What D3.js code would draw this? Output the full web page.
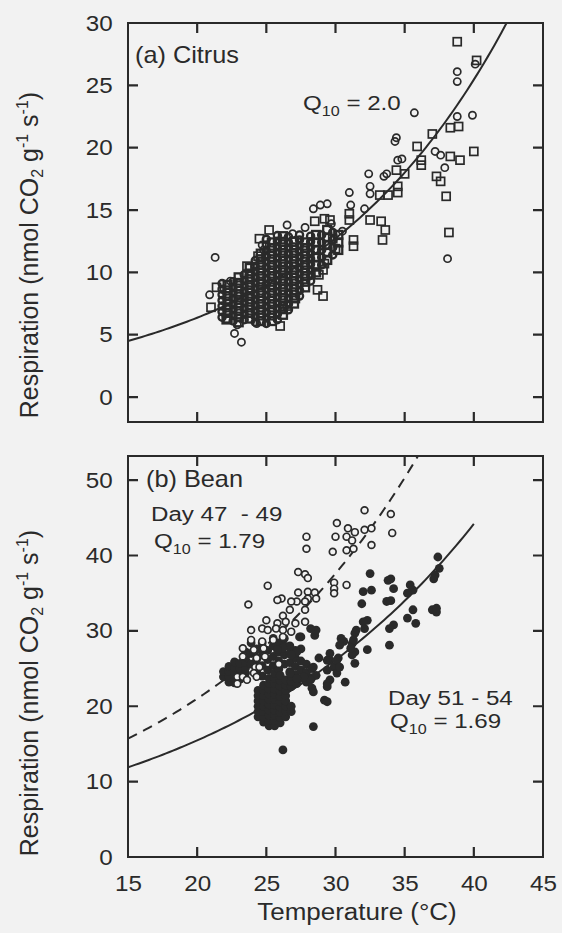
<!DOCTYPE html>
<html>
<head>
<meta charset="utf-8">
<title>Root respiration vs temperature</title>
<script src="https://cdn.jsdelivr.net/npm/d3@7"></script>
<style>
  body { margin: 0; background: #f2f2f2; }
  svg { display: block; font-family: "Liberation Sans", Arial, sans-serif; }
  text { white-space: pre; }
</style>
</head>
<body>
<script>
  // ---- data ----
  const tempTicks = [15, 20, 25, 30, 35, 40, 45];
  const innerTempTicks = [20, 25, 30, 35, 40];
  const citrusTicks = [0, 5, 10, 15, 20, 25, 30];
  const beanTicks = [0, 10, 20, 30, 40, 50];

  // Q10 fits: rate at 15 °C and Q10
  const citrusFit = { q10: 2.0, r15: 4.5, tmax: 45 };
  const beanFitEarly = { q10: 1.79, r15: 15.7, tmax: 45 };   // Day 47 - 49, dashed
  const beanFitLate = { q10: 1.69, r15: 11.9, tmax: 40 };    // Day 51 - 54, solid

  // (a) Citrus, [temperature, respiration]
  const citrusSquares = [[38.8,28.5],[40.2,27.0],[38.9,21.7],[38.3,21.6],[37.0,21.1],[35.9,20.1],[40.0,19.7],
    [39.0,19.0],[38.3,19.3],[36.2,19.0],[36.2,18.6],[34.4,18.2],[35.0,17.9],[37.3,17.7],[37.6,17.3],[38.0,16.1],
    [34.5,16.9],[34.5,16.4],[33.2,16.2],[33.8,16.2],[31.0,14.7],[31.0,14.2],[32.5,14.2],[33.3,14.1],[33.6,13.4],
    [33.4,12.6],[29.6,14.2],[29.2,14.3],[28.5,14.1],[38.2,13.2],[31.3,12.1],[30.0,11.9],[29.8,12.7],[31.3,12.6],
    [25.2,13.4],[24.5,12.7],[29.2,10.7],[29.1,10.2],[28.8,9.8],[28.7,8.6],[29.1,8.1],[27.1,7.9],[26.5,7.3],
    [26.0,5.7],[21.4,8.8],[21.0,7.2],[22.1,6.2],[23.6,10.5],[24.4,11.3]];
  const citrusCircles = [[38.8,26.1],[38.8,25.3],[40.1,26.7],[35.7,22.8],[38.8,22.5],[39.9,22.6],[34.3,20.5],
    [34.4,20.8],[37.2,19.7],[37.6,19.4],[34.5,19.0],[34.8,19.1],[37.9,18.4],[32.4,17.9],[33.5,17.7],[33.7,17.9],
    [32.5,16.9],[32.5,16.3],[31.0,16.4],[28.4,15.1],[28.9,15.4],[29.4,15.5],[32.1,15.1],[31.1,15.4],[29.7,13.9],
    [26.5,13.8],[38.1,11.1],[21.3,11.2],[20.9,8.2],[22.7,5.1],[23.2,4.4],[22.9,5.8],[24.3,5.9],[24.7,12.2],
    [24.8,11.8],[22.4,9.3],[27.8,13.6],[26.9,13.1],[30.5,13.3]];
  // the dark cloud of overlapping markers, by temperature column
  const citrusCloudCircles = [
    [21.8, [6.4, 6.85, 7.3, 7.75, 8.2, 8.65, 9.1]],
    [22.6, [6.1, 6.55, 7.0, 7.45, 7.9, 8.35, 8.8, 9.25]],
    [23.4, [6.2, 6.65, 7.1, 7.55, 8.0, 8.45, 8.9, 9.35, 9.8]],
    [24.2, [6.0, 6.45, 6.9, 7.35, 7.8, 8.25, 8.7, 9.15, 9.6, 10.05, 10.5, 10.95]],
    [25.0, [5.9, 6.35, 6.8, 7.25, 7.7, 8.15, 8.6, 9.05, 9.5, 9.95, 10.4, 10.85, 11.3, 11.75, 12.2, 12.65]],
    [25.8, [6.2, 6.65, 7.1, 7.55, 8.0, 8.45, 8.9, 9.35, 9.8, 10.25, 10.7, 11.15, 11.6, 12.05, 12.5, 12.95]],
    [26.6, [7.0, 7.45, 7.9, 8.35, 8.8, 9.25, 9.7, 10.15, 10.6, 11.05, 11.5, 11.95, 12.4, 12.85]],
    [27.4, [8.1, 8.55, 9.0, 9.45, 9.9, 10.35, 10.8, 11.25, 11.7, 12.15, 12.6, 13.0]],
    [28.2, [9.3, 9.75, 10.2, 10.65, 11.1, 11.55, 12.0, 12.45, 12.9]],
    [29.0, [10.6, 11.2, 11.8, 12.4, 13.0]],
    [29.8, [11.4, 12.0, 12.6, 13.2]]
  ];
  const citrusCloudSquares = [
    [22.2, [6.3, 6.75, 7.2, 7.65, 8.1, 8.55, 9.0]],
    [23.0, [6.0, 6.45, 6.9, 7.35, 7.8, 8.25, 8.7, 9.15, 9.6]],
    [23.8, [6.3, 6.75, 7.2, 7.65, 8.1, 8.55, 9.0, 9.45, 9.9, 10.35]],
    [24.6, [6.1, 6.55, 7.0, 7.45, 7.9, 8.35, 8.8, 9.25, 9.7, 10.15, 10.6, 11.05, 11.5]],
    [25.4, [6.1, 6.55, 7.0, 7.45, 7.9, 8.35, 8.8, 9.25, 9.7, 10.15, 10.6, 11.05, 11.5, 11.95, 12.4]],
    [26.2, [6.6, 7.05, 7.5, 7.95, 8.4, 8.85, 9.3, 9.75, 10.2, 10.65, 11.1, 11.55, 12.0, 12.45, 12.9]],
    [27.0, [7.5, 7.95, 8.4, 8.85, 9.3, 9.75, 10.2, 10.65, 11.1, 11.55, 12.0, 12.45]],
    [27.8, [8.8, 9.25, 9.7, 10.15, 10.6, 11.05, 11.5, 11.95, 12.4]],
    [28.6, [10.0, 10.6, 11.2, 11.8, 12.4, 13.0]],
    [29.4, [11.0, 11.6, 12.2, 12.8, 13.4]],
    [30.2, [11.8, 12.4, 13.0]]
  ];

  // (b) Bean: open circles = Day 47 - 49, filled = Day 51 - 54
  const beanOpen = [[32.1,46.0],[34.0,45.5],[34.1,43.0],[30.1,44.3],[30.9,43.6],[30.8,42.5],[30.0,42.5],
    [31.2,42.0],[31.4,43.1],[32.1,43.4],[32.6,43.6],[32.6,41.4],[29.8,40.5],[30.8,40.7],[31.3,40.9],[27.9,42.5],
    [27.9,40.9],[27.3,37.8],[27.8,37.5],[28.0,37.0],[25.1,36.0],[29.9,36.4],[29.9,35.6],[29.9,35.0],[30.8,36.1],
    [26.1,34.3],[27.3,35.1],[28.0,35.2],[28.5,35.1],[28.6,34.3],[28.0,34.3],[23.7,33.5],[25.8,34.1],[27.2,33.9],
    [27.8,33.9],[26.8,33.9],[26.7,32.8],[27.8,32.8],[25.0,31.4],[26.2,32.0],[26.4,31.2],[27.8,31.2],[27.1,31.0],
    [25.8,31.0],[23.9,30.1],[24.7,30.3],[25.1,30.1],[25.7,30.3],[26.2,30.1],[26.8,29.9],[23.9,28.8],[24.7,28.6],
    [25.5,28.8],[26.2,29.2],[23.3,27.7],[24.1,27.5],[24.8,27.7],[23.3,26.6],[24.3,26.4],[24.9,26.6],[24.2,25.2],
    [24.5,25.2],[25.9,25.6],[22.9,23.9],[23.3,23.9],[24.1,24.4],[22.9,23.0],[23.6,23.5],[24.3,23.9]];
  const beanFilled = [[37.4,39.8],[37.5,38.3],[37.2,37.4],[37.1,36.9],[32.5,37.6],[33.8,36.7],[32.0,35.2],
    [32.6,35.4],[31.9,33.6],[32.3,31.4],[31.5,30.1],[33.7,33.9],[34.0,34.0],[34.0,36.9],[34.2,35.6],[35.4,36.1],
    [35.6,35.4],[35.2,35.0],[37.0,32.8],[37.3,32.5],[37.3,33.0],[35.6,32.8],[35.2,31.7],[35.8,31.0],[32.0,31.2],
    [32.1,30.3],[34.2,30.8],[33.9,30.3],[31.4,29.7],[33.9,28.1],[30.6,28.6],[31.2,28.3],[31.4,27.2],[31.2,26.8],
    [30.3,28.1],[32.3,27.5],[30.2,26.4],[31.4,25.7],[29.6,26.1],[29.9,25.2],[30.1,24.4],[29.6,23.5],[30.7,23.2],
    [29.2,20.8],[29.4,20.6],[28.4,17.3],[26.2,14.2],[30.4,29.0],[31.3,28.8],[31.1,27.7],[28.5,29.4],[28.6,30.1],
    [28.2,30.3],[27.4,29.2],[26.7,27.9],[27.2,27.2],[26.2,27.7],[25.8,27.5],[26.8,26.8],[29.6,27.0],[30.1,26.1],
    [29.4,26.1],[28.8,26.4],[28.4,25.2],[29.4,24.8],[30.3,25.2],[28.6,24.1],[29.4,23.0],[28.2,23.5],[27.7,23.9],
    [27.2,23.7],[26.7,24.4],[28.4,21.9],[29.4,22.6]];
  const beanCloud = [
    [21.9, [23.9, 24.6]],
    [22.3, [23.2, 23.9, 24.6, 25.3]],
    [22.7, [23.1, 23.8, 24.5, 25.2, 25.9]],
    [23.1, [23.6, 24.3, 25.0, 25.7]],
    [23.5, [24.4, 25.1, 25.8, 26.5, 27.2]],
    [23.9, [25.6, 27.0, 28.4]],
    [24.3, [24.6, 26.2, 27.6]],
    [24.4, [18.6, 19.3, 20.0, 20.7, 21.4, 22.1]],
    [24.7, [24.0, 25.4, 26.8, 28.4]],
    [24.8, [17.9, 18.6, 19.3, 20.0, 20.7, 21.4, 22.1, 22.8]],
    [25.1, [24.8, 26.2, 27.4]],
    [25.2, [17.4, 18.1, 18.8, 19.5, 20.2, 20.9, 21.6, 22.3, 23.0, 23.7]],
    [25.5, [25.4, 26.6, 28.0, 29.0]],
    [25.6, [17.4, 18.1, 18.8, 19.5, 20.2, 20.9, 21.6, 22.3, 23.0, 23.7, 24.4]],
    [25.9, [24.9, 26.0, 27.2, 28.4]],
    [26.0, [17.8, 18.5, 19.2, 19.9, 20.6, 21.3, 22.0, 22.7, 23.4, 24.1]],
    [26.3, [25.6, 26.8, 28.0, 29.0]],
    [26.4, [18.6, 19.3, 20.0, 20.7, 21.4, 22.1, 22.8, 23.5]],
    [26.7, [24.6, 25.8, 27.0, 28.0]],
    [26.8, [19.3, 20.0, 22.6, 23.3, 24.0]],
    [27.1, [24.2, 25.3, 26.4, 27.4]],
    [27.2, [23.0, 23.7]],
    [27.5, [23.7, 24.8, 26.0, 27.6, 29.2]],
    [27.9, [23.2, 24.5, 25.6]],
    [28.3, [22.4, 23.8, 25.0]]
  ];

  // ---- drawing ----
  const ink = "#2a2a2a", bg = "#f2f2f2";
  const W = 562, H = 933;
  const left = 128, right = 543, tickLen = 10;
  const svg = d3.select("body").append("svg").attr("width", W).attr("height", H);

  const x = d3.scaleLinear().domain([15, 45]).range([left, right]);
  const yA = d3.scaleLinear().domain([-2, 30]).range([422, 23]);
  const yB = d3.scaleLinear().domain([0, 53.2]).range([857, 456]);

  const flat = cols => cols.flatMap(([t, rs]) => rs.map(r => [t, r]));

  function fitPoints(fit) {
    return d3.range(15, fit.tmax + 0.001, 0.25).map(t => [t, fit.r15 * Math.pow(fit.q10, (t - 15) / 10)]);
  }

  function panel(id, y, leftTicks, rightTicks, bottomLabels) {
    const [yb, yt] = y.range();
    svg.append("clipPath").attr("id", id)
      .append("rect").attr("x", left).attr("y", yt).attr("width", right - left).attr("height", yb - yt);
    const plot = svg.append("g").attr("clip-path", `url(#${id})`);

    // tick labels through d3 axes
    const style = g => {
      g.select(".domain").remove();
      g.selectAll(".tick line").remove();
      g.attr("font-size", 22).attr("font-family", null);
      g.selectAll("text").attr("fill", ink).attr("transform", "scale(1.1,1)");
    };
    svg.append("g").attr("transform", `translate(${left},0)`)
      .call(d3.axisLeft(y).tickValues(leftTicks).tickSize(0).tickPadding(14)).call(style);
    if (bottomLabels) {
      svg.append("g").attr("transform", `translate(0,${yb})`)
        .call(d3.axisBottom(x).tickValues(tempTicks).tickSize(0).tickPadding(18)).call(style);
    }

    // inward tick marks on all four sides, as one path
    const p = d3.path();
    leftTicks.forEach(v => { p.moveTo(left, y(v)); p.lineTo(left + tickLen, y(v)); });
    rightTicks.forEach(v => { p.moveTo(right, y(v)); p.lineTo(right - tickLen, y(v)); });
    innerTempTicks.forEach(v => {
      p.moveTo(x(v), yt); p.lineTo(x(v), yt + tickLen);
      p.moveTo(x(v), yb); p.lineTo(x(v), yb - tickLen);
    });
    svg.append("path").attr("d", p.toString())
      .attr("fill", "none").attr("stroke", ink).attr("stroke-width", 2.2);

    svg.append("rect").attr("x", left).attr("y", yt).attr("width", right - left).attr("height", yb - yt)
      .attr("fill", "none").attr("stroke", ink).attr("stroke-width", 2);
    return plot;
  }

  function curve(plot, y, fit, dash) {
    plot.append("path").datum(fitPoints(fit))
      .attr("d", d3.line().x(d => x(d[0])).y(d => y(d[1])))
      .attr("fill", "none").attr("stroke", ink).attr("stroke-width", 2)
      .attr("stroke-dasharray", dash || null);
  }

  function squares(plot, y, pts, sw) {
    plot.append("g").selectAll("rect").data(pts).join("rect")
      .attr("x", d => x(d[0]) - 4).attr("y", d => y(d[1]) - 4)
      .attr("width", 8).attr("height", 8)
      .attr("fill", "none").attr("stroke", ink).attr("stroke-width", sw || 1.7);
  }

  function circles(plot, y, pts, r, fill, stroke, sw) {
    plot.append("g").selectAll("circle").data(pts).join("circle")
      .attr("cx", d => x(d[0])).attr("cy", d => y(d[1])).attr("r", r)
      .attr("fill", fill).attr("stroke", stroke ? ink : "none").attr("stroke-width", sw || 1.7);
  }

  function label(x0, y0, size, sx) {
    return svg.append("text")
      .attr("transform", `translate(${x0},${y0}) scale(${sx},1)`)
      .attr("font-size", size).attr("fill", ink);
  }

  function q10Label(x0, y0, value) {
    const t = label(x0, y0, 21, 1.15);
    t.append("tspan").text("Q");
    t.append("tspan").attr("font-size", 14).attr("dy", 6).text("10");
    t.append("tspan").attr("dy", -6).text(" = " + value);
  }

  function yTitle(cy) {
    const t = svg.append("text")
      .attr("transform", `translate(38,${cy}) rotate(-90)`)
      .attr("text-anchor", "middle").attr("font-size", 25).attr("fill", ink);
    t.append("tspan").text("Respiration (nmol CO");
    t.append("tspan").attr("font-size", 16).attr("dy", 5).text("2");
    t.append("tspan").attr("dy", -5).text(" g");
    t.append("tspan").attr("font-size", 16).attr("dy", -10).text("-1");
    t.append("tspan").attr("dy", 10).text(" s");
    t.append("tspan").attr("font-size", 16).attr("dy", -10).text("-1");
    t.append("tspan").attr("dy", 10).text(")");
  }

  // (a) Citrus
  const plotA = panel("clipA", yA, citrusTicks, citrusTicks.slice(0, 6), false);
  curve(plotA, yA, citrusFit);
  squares(plotA, yA, flat(citrusCloudSquares), 2.3);
  circles(plotA, yA, flat(citrusCloudCircles), 3.6, "none", true, 2.3);
  squares(plotA, yA, citrusSquares);
  circles(plotA, yA, citrusCircles, 3.6, "none", true);

  // (b) Bean
  const plotB = panel("clipB", yB, beanTicks, beanTicks.slice(1), true);
  curve(plotB, yB, beanFitLate);
  curve(plotB, yB, beanFitEarly, "10,7");
  circles(plotB, yB, flat(beanCloud), 4.4, ink, false);
  circles(plotB, yB, beanFilled, 4.4, ink, false);
  circles(plotB, yB, beanOpen, 3.4, bg, true);

  // texts
  label(135, 63, 23, 1.1).text("(a) Citrus");
  q10Label(303, 110, citrusFit.q10.toFixed(1));
  label(146, 487, 23, 1.1).text("(b) Bean");
  label(151, 521, 21, 1.15).text("Day 47  - 49");
  q10Label(154, 548, beanFitEarly.q10.toFixed(2));
  label(388, 705, 21, 1.15).text("Day 51 - 54");
  q10Label(390, 728, beanFitLate.q10.toFixed(2));

  yTitle(255);
  yTitle(693);
  label(357, 920, 23, 1.13).attr("text-anchor", "middle").text("Temperature (°C)");
</script>
</body>
</html>
